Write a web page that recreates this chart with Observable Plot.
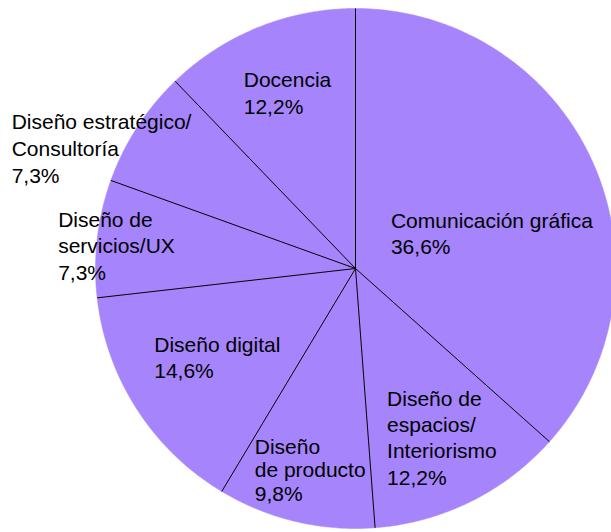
<!DOCTYPE html>
<html>
<head>
<meta charset="utf-8">
<script src="https://cdn.jsdelivr.net/npm/d3@7"></script>
<script src="https://cdn.jsdelivr.net/npm/@observablehq/plot@0.6"></script>
<style>
  html, body { margin: 0; padding: 0; background: #fff; overflow: hidden; }
  #chart svg { display: block; }
</style>
</head>
<body>
<div id="chart"></div>
<script>
// ---- Data ----
const categories = [
  "Comunicación gráfica",
  "Diseño de espacios/Interiorismo",
  "Diseño de producto",
  "Diseño digital",
  "Diseño de servicios/UX",
  "Diseño estratégico/Consultoría",
  "Docencia"
];
const labelTexts = [
  "Comunicación gráfica",
  "Diseño de\nespacios/\nInteriorismo",
  "Diseño\nde producto",
  "Diseño digital",
  "Diseño de\nservicios/UX",
  "Diseño estratégico/\nConsultoría",
  "Docencia"
];
const shares = [36.6, 12.2, 9.8, 14.6, 7.3, 7.3, 12.2];

// ---- Layout (not data) ----
const W = 611, H = 532;
const CX = 355, CY = 268, R = 260;
const FILL = "#a684fb";
const FONT = "Liberation Sans, Arial, sans-serif";
const FS = 21;
const labelRadius = [0.541, 0.735, 0.798, 0.635, 0.923, 1.079, 0.721];
const labelAngleShift = [10, -0.6, -0.7, -0.4, -1.5, -7.8, 0.7];
const labelLineSpacing = [26, 26.3, 23.7, 26.5, 26.5, 27, 27]; // px

// ---- Geometry from data ----
const total = d3.sum(shares);
const fmt = v => v.toFixed(1).replace(".", ",") + "%";
let cum = 0;
const slices = shares.map((v, i) => {
  const a0 = cum / total * 2 * Math.PI;
  cum += v;
  const a1 = cum / total * 2 * Math.PI;
  return {category: categories[i], a0, a1, value: v};
});

const polyPts = [];
slices.forEach(s => {
  polyPts.push({category: s.category, x: 0, y: 0});
  const n = Math.max(8, Math.ceil((s.a1 - s.a0) / 0.01));
  for (let k = 0; k <= n; k++) {
    const a = s.a0 + (s.a1 - s.a0) * k / n;
    polyPts.push({category: s.category, x: Math.sin(a), y: Math.cos(a)});
  }
  polyPts.push({category: s.category, x: 0, y: 0});
});

const boundaries = slices.map(s => ({x1: 0, y1: 0, x2: Math.sin(s.a0), y2: Math.cos(s.a0)}));

// text measurement
const ctx = document.createElement("canvas").getContext("2d");
ctx.font = `${FS}px ${FONT}`;

const labelMarks = slices.map((s, i) => {
  const text = labelTexts[i] + "\n" + fmt(s.value);
  const w = d3.max(text.split("\n"), l => ctx.measureText(l).width);
  const a = (s.a0 + s.a1) / 2 + labelAngleShift[i] * Math.PI / 180;
  const r = labelRadius[i];
  const lh = labelLineSpacing[i] / FS;
  return Plot.text([{x: r * Math.sin(a), y: r * Math.cos(a), text}], {
    x: "x", y: "y", text: "text",
    textAnchor: "start",
    lineAnchor: "middle",
    lineHeight: lh,
    dx: -w / 2,
    dy: 0.32 * 20 - 0.32 * lh * FS,
    fontSize: FS,
    fontFamily: FONT,
    fill: "#000"
  });
});

const chart = Plot.plot({
  width: W,
  height: H,
  margin: 0,
  x: {domain: [-CX / R, (W - CX) / R], axis: null},
  y: {domain: [-(H - CY) / R, CY / R], axis: null},
  style: {background: "#fff", overflow: "hidden"},
  marks: [
    Plot.line(polyPts, {x: "x", y: "y", z: "category", fill: FILL, stroke: FILL, strokeWidth: 0.5, curve: "linear"}),
    Plot.link(boundaries, {x1: "x1", y1: "y1", x2: "x2", y2: "y2", stroke: "#000", strokeWidth: 1}),
    ...labelMarks
  ]
});
document.getElementById("chart").appendChild(chart);
</script>
</body>
</html>
